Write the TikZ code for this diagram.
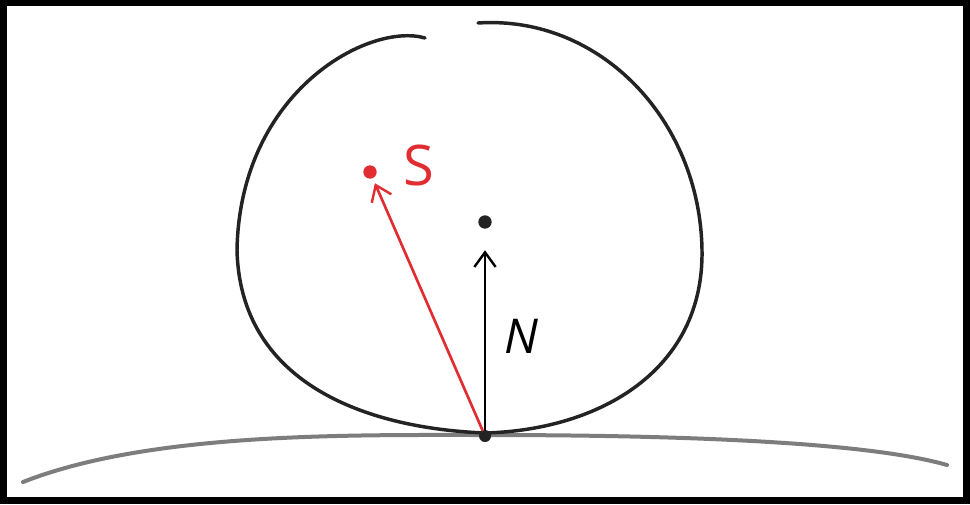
\documentclass[tikz,border=0pt]{standalone}
\usepackage{fontspec}
\setmainfont{Open Sans}
\usetikzlibrary{arrows.meta}
\definecolor{redpen}{RGB}{225,45,50}
\definecolor{inkgray}{RGB}{35,35,35}
\definecolor{groundgray}{RGB}{125,125,125}
\tikzset{
  pen/.style={line width=2.6pt, line cap=round, draw=inkgray},
  vec/.style={line width=2pt, line cap=round, -{Straight Barb[length=11pt,width=16pt,line width=1.8pt]}},
  dotnode/.style={circle, inner sep=0pt, minimum size=10pt},
  lbl/.style={inner sep=0pt}
}
\begin{document}
\begin{tikzpicture}[x=0.75pt,y=-0.75pt]
\useasboundingbox (0,0) rectangle (970,504);
\fill[black] (0,0) rectangle (970,504);
\fill[white] (7,6) rectangle (963,497);
% ground
\draw[line width=3pt, line cap=round, draw=groundgray]
  (23,482) .. controls (150,432) and (350,435) .. (485,435)
  .. controls (650,435) and (860,440) .. (947,465);
% circle (two strokes with gap on top)
\coordinate (contact) at (485,433);
\draw[pen] (425,38) .. controls (370,22) and (240,90) .. (237,250)
  .. controls (240,380) and (360,428) .. (contact);
\draw[pen] (478,23) .. controls (600,15) and (700,120) .. (702,250)
  .. controls (704,370) and (600,430) .. (contact);
% points
\node[dotnode, fill=redpen] (s) at (370,172) {};
\node[dotnode, fill=inkgray] (n) at (485,222) {};
\node[dotnode, fill=inkgray, minimum size=9pt] (o) at (485,436) {};
% vectors
\draw[vec, draw=redpen, shorten >=4pt] (o) -- (s);
\draw[vec, draw=black, shorten >=16pt] (o) -- (n);
% labels
\node[lbl, text=redpen, font=\fontsize{42}{42}\selectfont] (slbl) at (419,165) {S};
\node[lbl, text=black, font=\fontsize{36}{36}\selectfont\itshape] (nlbl) at (521,336) {N};
\end{tikzpicture}
\end{document}
